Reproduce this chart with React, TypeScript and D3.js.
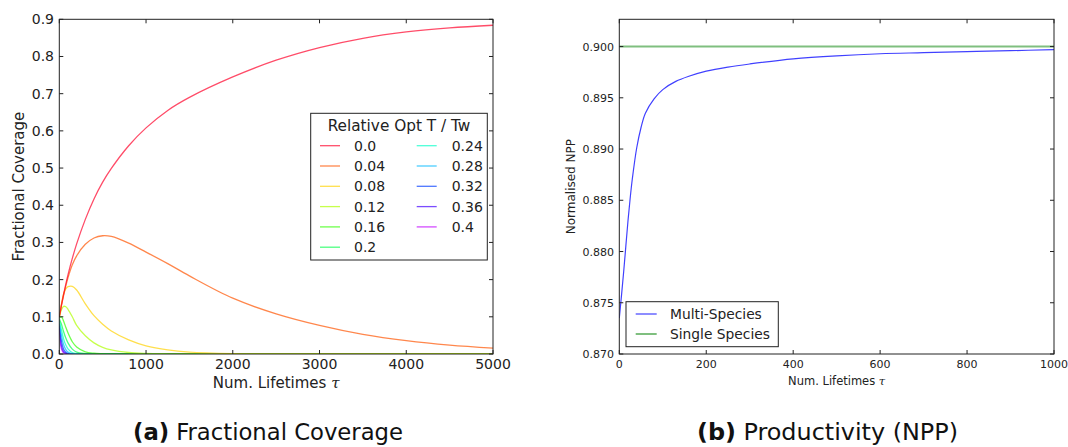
import React from "react";
import * as d3 from "d3";

// ---------- Data: (a) Fractional Coverage ----------
const timeA = [0, 25, 50, 75, 100, 150, 200, 300, 400, 500, 600, 800, 1000, 1250, 1500, 2000, 2500, 3000, 3500, 4000, 4500, 5000];
const optLabels = ["0.0", "0.04", "0.08", "0.12", "0.16", "0.2", "0.24", "0.28", "0.32", "0.36", "0.4"];
const cov00 = [0.1, 0.132, 0.161, 0.188, 0.213, 0.257, 0.296, 0.362, 0.417, 0.462, 0.499, 0.56, 0.608, 0.655, 0.69, 0.745, 0.79, 0.824, 0.849, 0.866, 0.877, 0.884];
const cov04 = [0.1, 0.13, 0.158, 0.183, 0.205, 0.24, 0.264, 0.295, 0.312, 0.318, 0.316, 0.298, 0.274, 0.243, 0.21, 0.15, 0.108, 0.077, 0.053, 0.036, 0.024, 0.016];
const cov08 = [0.1, 0.135, 0.162, 0.175, 0.181, 0.182, 0.172, 0.135, 0.103, 0.08, 0.062, 0.038, 0.022, 0.011, 0.005, 0.001, 0.0002, 0, 0, 0, 0, 0];
const cov12 = [0.1, 0.119, 0.128, 0.127, 0.12, 0.1, 0.077, 0.049, 0.03, 0.018, 0.011, 0.004, 0.0015, 0.0005, 0, 0, 0, 0, 0, 0, 0, 0];
const cov16 = [0.097, 0.1, 0.088, 0.072, 0.057, 0.033, 0.019, 0.006, 0.002, 0.0007, 0, 0, 0, 0, 0, 0, 0, 0, 0, 0, 0, 0];
const cov20 = [0.095, 0.08, 0.06, 0.043, 0.03, 0.013, 0.005, 0.001, 0, 0, 0, 0, 0, 0, 0, 0, 0, 0, 0, 0, 0, 0];
const cov24 = [0.09, 0.065, 0.04, 0.024, 0.014, 0.004, 0.001, 0, 0, 0, 0, 0, 0, 0, 0, 0, 0, 0, 0, 0, 0, 0];
const cov28 = [0.085, 0.05, 0.025, 0.012, 0.005, 0.001, 0, 0, 0, 0, 0, 0, 0, 0, 0, 0, 0, 0, 0, 0, 0, 0];
const cov32 = [0.08, 0.035, 0.013, 0.005, 0.002, 0, 0, 0, 0, 0, 0, 0, 0, 0, 0, 0, 0, 0, 0, 0, 0, 0];
const cov36 = [0.075, 0.022, 0.006, 0.002, 0, 0, 0, 0, 0, 0, 0, 0, 0, 0, 0, 0, 0, 0, 0, 0, 0, 0];
const cov40 = [0.07, 0.013, 0.003, 0.001, 0, 0, 0, 0, 0, 0, 0, 0, 0, 0, 0, 0, 0, 0, 0, 0, 0, 0];
const coverageSeries = [cov00, cov04, cov08, cov12, cov16, cov20, cov24, cov28, cov32, cov36, cov40];
const coverageColors = ["#ff0029", "#ff5400", "#ffd200", "#afff00", "#32ff00", "#00ff4b", "#00ffc7", "#00b9ff", "#003cff", "#4300ff", "#c100ff"];
const xTicksA = [0, 1000, 2000, 3000, 4000, 5000];
const yTicksA = [0, 0.1, 0.2, 0.3, 0.4, 0.5, 0.6, 0.7, 0.8, 0.9];

// ---------- Data: (b) Productivity ----------
const timeB = [0, 5, 10, 15, 20, 25, 30, 40, 50, 60, 80, 100, 130, 160, 200, 250, 300, 400, 500, 600, 700, 800, 900, 1000];
const multiSpecies = [0.8735, 0.8757, 0.878, 0.8805, 0.883, 0.8852, 0.8871, 0.8901, 0.8921, 0.8935, 0.8949, 0.8958, 0.8966, 0.8971, 0.8976, 0.898, 0.8983, 0.8988, 0.8991, 0.8993, 0.8994, 0.8995, 0.8996, 0.8997];
const singleSpecies = [0.9, 0.9, 0.9, 0.9, 0.9, 0.9, 0.9, 0.9, 0.9, 0.9, 0.9, 0.9, 0.9, 0.9, 0.9, 0.9, 0.9, 0.9, 0.9, 0.9, 0.9, 0.9, 0.9, 0.9];
const xTicksB = [0, 200, 400, 600, 800, 1000];
const yTicksB = [0.87, 0.875, 0.88, 0.885, 0.89, 0.895, 0.9];

const FONT = "'DejaVu Sans', sans-serif";
const CAPFONT = "'DejaVu Sans Condensed', 'Liberation Sans Narrow', 'DejaVu Sans', sans-serif";

export default function App() {
  // Panel A geometry
  const A = { l: 59.3, r: 493, t: 19.3, b: 354 };
  const xA = d3.scaleLinear().domain([0, 5000]).range([A.l, A.r]);
  const yA = d3.scaleLinear().domain([0, 0.9]).range([A.b, A.t]);
  const lineA = (vals: number[]) =>
    d3.line<number>().x((_, i) => xA(timeA[i])).y((d) => yA(d)).curve(d3.curveCatmullRom.alpha(0.5))(vals) || "";

  // Panel B geometry
  const B = { l: 619.3, r: 1054, t: 19.3, b: 354 };
  const xB = d3.scaleLinear().domain([0, 1000]).range([B.l, B.r]);
  const yB = d3.scaleLinear().domain([0.87, 0.90266]).range([B.b, B.t]);
  const lineB = (vals: number[]) =>
    d3.line<number>().x((_, i) => xB(timeB[i])).y((d) => yB(d)).curve(d3.curveCatmullRom.alpha(0.5))(vals) || "";

  const tick = 4;

  const legendRows = optLabels.map((lab, i) => ({
    lab,
    col: i < 6 ? 0 : 1,
    row: i < 6 ? i : i - 6,
    color: coverageColors[i],
  }));

  return (
    <svg width={1068} height={447} style={{ position: "absolute", left: 0, top: 0, background: "#fff" }} fontFamily={FONT}>
      <defs>
        <clipPath id="clipA"><rect x={A.l} y={A.t} width={A.r - A.l} height={A.b - A.t} /></clipPath>
        <clipPath id="clipB"><rect x={B.l} y={B.t} width={B.r - B.l} height={B.b - B.t} /></clipPath>
      </defs>

      {/* ===== Panel A ===== */}
      <g clipPath="url(#clipA)">
        {coverageSeries.map((s, i) => (
          <path key={i} d={lineA(s)} fill="none" stroke={coverageColors[i]} strokeOpacity={0.7} strokeWidth={1.3} />
        )).reverse()}
      </g>
      <rect x={A.l} y={A.t} width={A.r - A.l} height={A.b - A.t} fill="none" stroke="#222" strokeWidth={1} />
      {xTicksA.map((t) => (
        <g key={t}>
          <line x1={xA(t)} x2={xA(t)} y1={A.b} y2={A.b - tick} stroke="#222" />
          <line x1={xA(t)} x2={xA(t)} y1={A.t} y2={A.t + tick} stroke="#222" />
          <text x={xA(t)} y={369} fontSize={14} textAnchor="middle" fill="#222">{String(t)}</text>
        </g>
      ))}
      {yTicksA.map((t) => (
        <g key={t}>
          <line x1={A.l} x2={A.l + tick} y1={yA(t)} y2={yA(t)} stroke="#222" />
          <line x1={A.r} x2={A.r - tick} y1={yA(t)} y2={yA(t)} stroke="#222" />
          <text x={54} y={yA(t) + 5} fontSize={14} textAnchor="end" fill="#222">{d3.format(".1f")(t)}</text>
        </g>
      ))}
      <text x={(A.l + A.r) / 2} y={388} fontSize={15} textAnchor="middle" fill="#222">
        Num. Lifetimes <tspan fontStyle="italic" fontFamily="'DejaVu Serif', serif">τ</tspan>
      </text>
      <text transform={`translate(24,${(A.t + A.b) / 2}) rotate(-90)`} fontSize={15} textAnchor="middle" fill="#222">
        Fractional Coverage
      </text>

      {/* Legend A */}
      <rect x={310.7} y={113.3} width={176.6} height={146.7} fill="#fff" stroke="#222" strokeWidth={1} />
      <text x={399} y={130.5} fontSize={15.3} textAnchor="middle" fill="#222">Relative Opt T / Tw</text>
      {legendRows.map((r) => {
        const lx = r.col === 0 ? 320 : 416.7;
        const tx = r.col === 0 ? 354 : 451.7;
        const y = 145.7 + r.row * 20.3;
        return (
          <g key={r.lab}>
            <line x1={lx} x2={lx + 20} y1={y} y2={y} stroke={r.color} strokeOpacity={0.7} strokeWidth={1.3} />
            <text x={tx} y={y + 5} fontSize={14} fill="#222">{r.lab}</text>
          </g>
        );
      })}

      {/* ===== Panel B ===== */}
      <g clipPath="url(#clipB)">
        <path d={lineB(singleSpecies)} fill="none" stroke="#008000" strokeOpacity={0.5} strokeWidth={2} />
        <path d={lineB(multiSpecies)} fill="none" stroke="#0000ff" strokeOpacity={0.75} strokeWidth={1.2} />
      </g>
      <rect x={B.l} y={B.t} width={B.r - B.l} height={B.b - B.t} fill="none" stroke="#222" strokeWidth={1} />
      {xTicksB.map((t) => (
        <g key={t}>
          <line x1={xB(t)} x2={xB(t)} y1={B.b} y2={B.b - tick} stroke="#222" />
          <line x1={xB(t)} x2={xB(t)} y1={B.t} y2={B.t + tick} stroke="#222" />
          <text x={xB(t)} y={368} fontSize={11} textAnchor="middle" fill="#222">{String(t)}</text>
        </g>
      ))}
      {yTicksB.map((t) => (
        <g key={t}>
          <line x1={B.l} x2={B.l + tick} y1={yB(t)} y2={yB(t)} stroke="#222" />
          <line x1={B.r} x2={B.r - tick} y1={yB(t)} y2={yB(t)} stroke="#222" />
          <text x={614} y={yB(t) + 4} fontSize={11} textAnchor="end" fill="#222">{d3.format(".3f")(t)}</text>
        </g>
      ))}
      <text x={(B.l + B.r) / 2} y={385} fontSize={11.5} textAnchor="middle" fill="#222">
        Num. Lifetimes <tspan fontStyle="italic" fontFamily="'DejaVu Serif', serif">τ</tspan>
      </text>
      <text transform={`translate(575,${(B.t + B.b) / 2}) rotate(-90)`} fontSize={12} textAnchor="middle" fill="#222">
        Normalised NPP
      </text>

      {/* Legend B */}
      <rect x={626} y={301.7} width={152.3} height={45} fill="#fff" stroke="#222" strokeWidth={1} />
      <line x1={635.7} x2={656.7} y1={314} y2={314} stroke="#0000ff" strokeOpacity={0.75} strokeWidth={1.2} />
      <text x={670} y={318.7} fontSize={13.8} fill="#222">Multi-Species</text>
      <line x1={635.7} x2={656.7} y1={334} y2={334} stroke="#008000" strokeOpacity={0.5} strokeWidth={2} />
      <text x={670} y={338.7} fontSize={13.8} fill="#222">Single Species</text>

      {/* Captions */}
      <text x={268} y={440} fontSize={23} textAnchor="middle" fill="#111" fontFamily={CAPFONT} textLength={270} lengthAdjust="spacingAndGlyphs">
        <tspan fontWeight="bold">(a)</tspan> Fractional Coverage
      </text>
      <text x={827.5} y={440} fontSize={23} textAnchor="middle" fill="#111" fontFamily={CAPFONT} textLength={261} lengthAdjust="spacingAndGlyphs">
        <tspan fontWeight="bold">(b)</tspan> Productivity (NPP)
      </text>
    </svg>
  );
}
